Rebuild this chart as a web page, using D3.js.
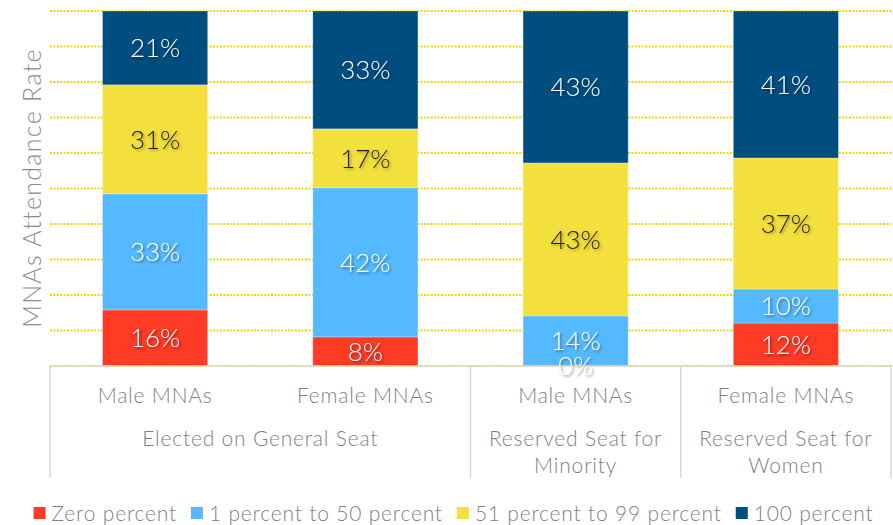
<!DOCTYPE html>
<html><head><meta charset="utf-8">
<script src="https://cdn.jsdelivr.net/npm/d3@7"></script>
<style>body{margin:0;background:#fff;} svg{display:block;font-family:Lato, "Open Sans", sans-serif;}</style>
</head><body><svg id="chart" width="893" height="525"></svg>
<script>
const categories = ["Male MNAs", "Female MNAs", "Male MNAs", "Female MNAs"];
const groupLabels = [["Elected on General Seat"], ["Reserved Seat for", "Minority"], ["Reserved Seat for", "Women"]];
const groupSpans = [2, 1, 1];
const seriesNames = ["Zero percent", "1 percent to 50 percent", "51 percent to 99 percent", "100 percent"];
const zeroPct = [15.8, 8.2, 0, 12.1];
const lowPct = [32.7, 42.0, 14.1, 9.6];
const highPct = [30.7, 16.6, 43.1, 36.9];
const fullPct = [20.8, 33.2, 42.8, 41.4];
const yTicks = [0, 10, 20, 30, 40, 50, 60, 70, 80, 90, 100];
const yTitle = "MNAs Attendance Rate";

const colors = ["#FF3A25", "#55B9FF", "#F3E03C", "#004D80"];
const labelColors = ["#ffffff", "#ffffff", "#1a1a1a", "#ffffff"];
const gray = "#7f7f7f";

const svg = d3.select("#chart");
const defs = svg.append("defs");
const f1 = defs.append("filter").attr("id", "shw").attr("x", "-20%").attr("y", "-20%").attr("width", "140%").attr("height", "140%");
f1.append("feDropShadow").attr("dx", 1.5).attr("dy", 1.5).attr("stdDeviation", 1).attr("flood-color", "#000").attr("flood-opacity", 0.45);
const f2 = defs.append("filter").attr("id", "shy").attr("x", "-20%").attr("y", "-20%").attr("width", "140%").attr("height", "140%");
f2.append("feDropShadow").attr("dx", 1.5).attr("dy", 1.5).attr("stdDeviation", 1).attr("flood-color", "#6b5e00").attr("flood-opacity", 0.6);

const plotLeft = 50, plotRight = 891, plotTop = 11, plotBottom = 366;
const x = d3.scaleBand().domain(d3.range(categories.length)).range([plotLeft, plotRight]).paddingInner(0.5).paddingOuter(0.25);
const y = d3.scaleLinear().domain([0, 100]).range([plotBottom, plotTop]);

// gridlines
svg.append("g").selectAll("line").data(yTicks).join("line")
  .attr("x1", plotLeft).attr("x2", 893)
  .attr("y1", d => y(d)).attr("y2", d => y(d))
  .attr("stroke", "#F5D40F").attr("stroke-width", 2).attr("stroke-dasharray", "2 1.4");

// stacked data
const table = categories.map((c, i) => ({i, s0: zeroPct[i], s1: lowPct[i], s2: highPct[i], s3: fullPct[i]}));
const stack = d3.stack().keys(["s0", "s1", "s2", "s3"])(table);

const layers = svg.append("g").selectAll("g").data(stack).join("g").attr("fill", (d, k) => colors[k]);
layers.selectAll("rect").data(d => d).join("rect")
  .attr("x", d => x(d.data.i)).attr("width", x.bandwidth())
  .attr("y", d => y(d[1])).attr("height", d => y(d[0]) - y(d[1]))
  .attr("stroke", "#ffffff").attr("stroke-opacity", 0.35).attr("stroke-width", 0.8);

// data labels
const lab = svg.append("g").attr("font-size", 26).attr("font-weight", 300).attr("text-anchor", "middle");
stack.forEach((layer, k) => {
  lab.append("g").selectAll("text").data(layer).join("text")
    .attr("x", d => x(d.data.i) + x.bandwidth() / 2)
    .attr("y", d => (y(d[0]) + y(d[1])) / 2)
    .attr("dy", "0.36em")
    .attr("fill", labelColors[k])
    .attr("filter", k === 2 ? "url(#shy)" : "url(#shw)")
    .text(d => Math.round(d[1] - d[0]) + "%");
});

// category axis box
const axisG = svg.append("g");
axisG.append("line").attr("x1", plotLeft).attr("x2", plotRight - 1).attr("y1", plotBottom).attr("y2", plotBottom)
  .attr("stroke", "#d9d9d9").attr("stroke-width", 1.5);
const step = x.step();
let bounds = [plotLeft];
let acc = 0;
groupSpans.forEach(s => { acc += s; bounds.push(plotLeft + acc * step); });
bounds.forEach(bx => {
  axisG.append("line").attr("x1", bx).attr("x2", bx).attr("y1", plotBottom).attr("y2", 478)
    .attr("stroke", "#d9d9d9").attr("stroke-width", 1.5);
});
const txtStyle = sel => sel.attr("fill", gray).attr("font-size", 21).attr("font-weight", 300).attr("letter-spacing", 0.8);
axisG.append("g").selectAll("text").data(categories).join("text")
  .attr("x", (d, i) => x(i) + x.bandwidth() / 2).attr("y", 395).attr("dy", "0.36em")
  .attr("text-anchor", "middle").call(txtStyle)
  .text(d => d);
groupLabels.forEach((lines, g) => {
  const cx = (bounds[g] + bounds[g + 1]) / 2;
  lines.forEach((t, j) => {
    axisG.append("text").attr("x", cx).attr("y", 438 + j * 27).attr("dy", "0.36em")
      .attr("text-anchor", "middle").call(txtStyle).text(t);
  });
});

// y title
svg.append("text").attr("transform", "translate(32,188) rotate(-90)")
  .attr("text-anchor", "middle").attr("dy", "0.36em").attr("fill", "#8c8c8c")
  .attr("font-size", 25).attr("font-weight", 300).attr("letter-spacing", 1.3).text(yTitle);

// legend
const leg = svg.append("g");
const items = leg.selectAll("g").data(seriesNames).join("g");
items.append("rect").attr("width", 12).attr("height", 12).attr("y", -6).attr("fill", (d, k) => colors[k]);
items.append("text").attr("x", 18).attr("dy", "0.36em").call(txtStyle).text(d => d);
let lx = 0;
const widths = [];
items.each(function () { widths.push(18 + d3.select(this).select("text").node().getComputedTextLength()); });
const totalW = d3.sum(widths) + 14 * (widths.length - 1);
lx = 453.5 - totalW / 2;
items.each(function (d, k) { d3.select(this).attr("transform", `translate(${lx},513)`); lx += widths[k] + 14; });
</script></body></html>
